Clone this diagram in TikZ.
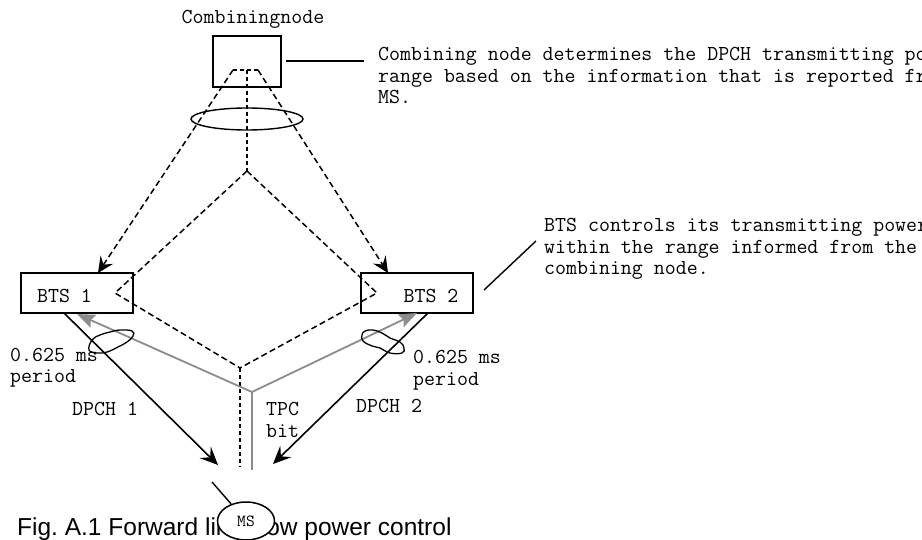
\documentclass[tikz,border=0pt]{standalone}
\usepackage{fontspec}
\newfontfamily\arialf{Liberation Sans}
\usetikzlibrary{arrows.meta,shapes.geometric}
\definecolor{graycol}{RGB}{140,140,140}
\frenchspacing
\tikzset{
  mono/.style={font=\ttfamily\fontsize{21.3}{21.5}\selectfont, inner sep=0pt},
  boxn/.style={draw, line width=1.8pt, rectangle, inner sep=0pt},
  dsh/.style={line width=1.5pt, dash pattern=on 6pt off 3.5pt},
  dtt/.style={line width=1.5pt, dash pattern=on 4pt off 3pt},
  dtip/.style={-{Stealth[length=16pt,width=15pt,inset=6pt]}},
  blk/.style={line width=1.6pt, -{Stealth[length=18pt,width=16pt,inset=7pt]}},
  gry/.style={line width=1.8pt, draw=graycol},
  gryarr/.style={line width=1.8pt, draw=graycol, fill=graycol, -{Stealth[length=18pt,width=14pt,inset=3pt]}},
  blob/.style={line width=1.3pt},
  callout/.style={line width=1.4pt}
}
\begin{document}
\begin{tikzpicture}[x=1pt,y=-1pt]
\useasboundingbox (0,0) rectangle (922,540);
% nodes
\node[boxn, minimum width=68pt, minimum height=51pt] (cn) at (247,61.5) {};
\node[mono, anchor=base] (cnlabel) at (253,24) {Combiningnode};
\node[boxn, minimum width=112pt, minimum height=40pt] (bts1) at (77,293) {};
\node[mono, anchor=base] (bts1t) at (64.5,303) {BTS 1};
\node[boxn, minimum width=112pt, minimum height=40pt] (bts2) at (417,293) {};
\node[mono, anchor=base] (bts2t) at (431,303) {BTS 2};
\node[draw, ellipse, line width=1.4pt, minimum width=112pt, minimum height=22pt, inner sep=0pt] (grp) at (247,119) {};
% coordinates
\coordinate (cnL) at (233,70);
\coordinate (cnR) at (258,70);
\coordinate (cnC) at (247,70);
\coordinate (apex) at (247,171);
\coordinate (in1) at (115,293);
\coordinate (in2) at (377,293);
\coordinate (vee) at (240,368);
\coordinate (vbot) at (240,467);
\coordinate (b1top) at (98,273);
\coordinate (b2top) at (388,273);
\coordinate (b1bot) at (64,313);
\coordinate (b2bot) at (428,313);
\coordinate (ms1) at (218,465);
\coordinate (ms2) at (273,464);
\coordinate (gj) at (252,392);
\coordinate (gbot) at (252,470);
\coordinate (g1) at (77,314);
\coordinate (g2) at (417,313);
\coordinate (cco1) at (286,61);
\coordinate (cco2) at (364,61);
\coordinate (bco1) at (484,290);
\coordinate (bco2) at (536,241);
\coordinate (msl) at (212,482);
% dashed control paths
\draw[dtt] (cnL) -- (cnR);
\draw[dsh, dtip] (cnL) -- (b1top);
\draw[dsh, dtip] (cnR) -- (b2top);
\draw[dtt] (cnC) -- (apex);
\draw[dsh] (apex) -- (in1) -- (vee);
\draw[dsh] (apex) -- (in2) -- (vee);
\draw[dtt] (vee) -- (vbot);
% DPCH arrows
\draw[blk] (b1bot) -- (ms1);
\draw[blk] (b2bot) -- (ms2);
% TPC gray
\draw[gry] (gbot) -- (gj);
\draw[gryarr] (gj) -- (g1);
\draw[gryarr] (gj) -- (g2);
% blobs
\draw[blob] plot[smooth cycle, tension=0.7] coordinates {(89,350) (92,340) (100,335) (110,332) (120,330) (132,331) (133,336) (127,342) (118,347) (107,352) (97,353)};
\draw[blob] plot[smooth cycle, tension=0.7] coordinates {(362,335) (365,331) (373,330) (382,333) (390,338) (400,342) (404,348) (402,353) (390,353) (380,348) (372,346) (363,341)};
% labels
\node[mono, anchor=base west, align=left] (per1) at (10,383) {0.625 ms\\period};
\node[mono, anchor=base west, align=left] (per2) at (413,385) {0.625 ms\\period};
\node[mono, anchor=base west] (dpch1) at (72,415) {DPCH 1};
\node[mono, anchor=base west] (dpch2) at (356,413) {DPCH 2};
\node[mono, anchor=base west, align=left] (tpc) at (266,437) {TPC\\bit};
% callouts
\draw[callout] (cco1) -- (cco2);
\node[mono, anchor=base west, align=left] (cntext) at (378,104) {Combining node determines the DPCH transmitting power\\range based on the information that is reported from the\\MS.};
\draw[callout] (bco1) -- (bco2);
\node[mono, anchor=base west, align=left] (btstext) at (544,275) {BTS controls its transmitting power\\within the range informed from the\\combining node.};
% caption and MS
\node[font=\arialf\fontsize{24.5}{28}\selectfont, anchor=base west, inner sep=0pt] (cap) at (17,535) {Fig. A.1 Forward link slow power control};
\node[draw, ellipse, fill=white, line width=1.5pt, minimum width=57pt, minimum height=38pt, inner sep=0pt, font=\ttfamily\fontsize{17}{18}\selectfont] (ms) at (246,521) {MS};
\draw[line width=1.4pt] (msl) -- (ms);
\end{tikzpicture}
\end{document}
